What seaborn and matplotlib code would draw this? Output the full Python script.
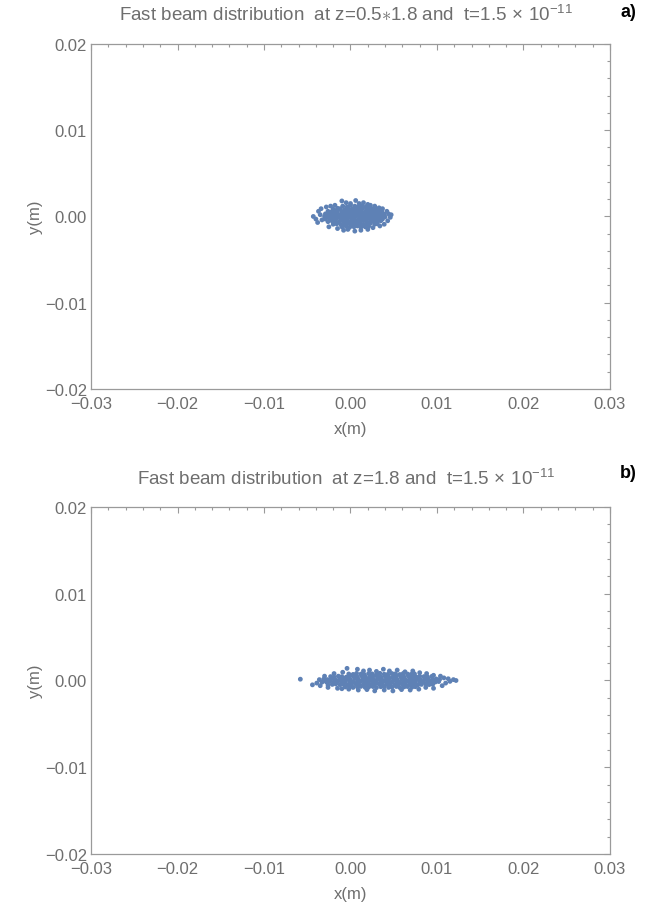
import numpy as np
import matplotlib
matplotlib.use("Agg")
import matplotlib.pyplot as plt
import seaborn as sns
from matplotlib.ticker import FixedLocator, FixedFormatter, MultipleLocator

sns.set_theme(style="white")
plt.rcParams['font.family'] = ['Liberation Sans', 'DejaVu Sans']
plt.rcParams['mathtext.fontset'] = 'custom'
plt.rcParams['mathtext.rm'] = 'Liberation Sans'
plt.rcParams['mathtext.it'] = 'Liberation Sans:italic'

# ---------------- data (values in mm) ----------------
# panel a) z = 0.5*1.8
x_a_mm = [
    -0.9, -0.4, 0.0, 0.5, 0.9, 1.3, 1.8,
    -2.0, -1.5, -1.2, -0.7, -0.3, 0.2, 0.6, 1.0, 1.4, 1.9, 2.2, 2.6, 3.0,
    -2.6, -2.2, -1.8, -1.5, -1.0, -0.6, -0.2, 0.2, 0.5, 1.0, 1.3, 1.8, 2.1, 2.5, 2.9, 3.3, 3.6,
    -2.9, -2.5, -2.1, -1.7, -1.3, -0.9, -0.4, 0.0, 0.4, 0.8, 1.2, 1.6, 2.0, 2.4, 2.8, 3.2, 3.6, 3.9,
    -3.0, -2.7, -2.3, -1.9, -1.5, -1.1, -0.6, -0.2, 0.2, 0.6, 1.0, 1.4, 1.8, 2.2, 2.6, 3.0, 3.4, 3.7, 4.0,
    -2.9, -2.4, -2.0, -1.7, -1.2, -0.8, -0.4, 0.1, 0.4, 0.9, 1.3, 1.7, 2.1, 2.5, 2.9, 3.3, 3.7,
    -2.6, -2.1, -1.7, -1.3, -0.9, -0.5, -0.1, 0.3, 0.7, 1.1, 1.5, 1.9, 2.3, 2.7, 3.1, 3.5,
    -2.0, -1.6, -1.1, -0.7, -0.2, 0.2, 0.6, 1.1, 1.5, 1.9, 2.3, 2.8, 3.1,
    -1.0, -0.5, -0.1, 0.4, 0.8, 1.2, 1.7, 2.1,
    -4.3, -3.7, -3.8, -3.4, -3.3, -3.5, -2.8, -2.5, -1.8, -1.5, -1.0, -0.5, 0.6, 1.0, 1.5, 2.3,
    2.8, 3.3, 3.7, 4.2, 4.4, 4.6, 4.7, 4.3, 3.9, 3.4, 2.6, 2.0, 1.2, 0.5, -0.3, -0.8, 0.0, 2.0,
    -2.3, -4.0,
]
y_a_mm = [
    1.2, 1.1, 1.3, 1.2, 1.1, 1.25, 1.15,
    0.85, 0.95, 0.9, 0.8, 0.95, 0.9, 0.85, 0.95, 0.9, 0.8, 0.95, 0.9, 0.85,
    0.6, 0.55, 0.65, 0.6, 0.5, 0.65, 0.6, 0.55, 0.65, 0.6, 0.5, 0.6, 0.65, 0.55, 0.6, 0.5, 0.6,
    0.3, 0.25, 0.35, 0.3, 0.2, 0.3, 0.35, 0.25, 0.3, 0.35, 0.2, 0.3, 0.25, 0.35, 0.3, 0.2, 0.3, 0.25,
    0.0, -0.05, 0.05, 0.0, -0.05, 0.05, 0.0, 0.05, -0.05, 0.0, 0.05, 0.0, -0.05, 0.05, 0.0, -0.05, 0.05, 0.0, -0.05,
    -0.3, -0.25, -0.35, -0.3, -0.2, -0.3, -0.35, -0.25, -0.3, -0.35, -0.25, -0.3, -0.2, -0.35, -0.3, -0.25, -0.3,
    -0.6, -0.55, -0.65, -0.6, -0.5, -0.65, -0.6, -0.55, -0.65, -0.6, -0.5, -0.6, -0.65, -0.55, -0.6, -0.5,
    -0.9, -0.85, -0.95, -0.9, -0.8, -0.95, -0.9, -0.85, -0.95, -0.9, -0.8, -0.9, -0.85,
    -1.2, -1.15, -1.25, -1.2, -1.1, -1.25, -1.2, -1.15,
    0.0, 0.6, -0.7, 0.9, -0.4, 0.2, 1.1, -1.2, 1.3, -1.4, 1.8, 1.6, 1.85, 1.5, 1.6, 1.3,
    1.2, 1.0, 0.9, 0.6, 0.3, -0.1, 0.2, -0.5, -0.9, -1.1, -1.3, -1.5, -1.6, -1.7, -1.5, -1.6, 1.5, 1.4,
    1.2, -0.3,
]

# panel b) z = 1.8
x_b_mm = [
    -0.2, 0.3, 0.7, 1.2, 1.6, 2.1, 2.5, 3.0, 3.4, 3.9, 4.3, 4.8, 5.2, 5.7, 6.1, 6.6, 7.0, 7.4,
    -2.3, -1.9, -1.4, -1.0, -0.5, -0.1, 0.4, 0.8, 1.3, 1.7, 2.2, 2.6, 3.1, 3.5, 4.0, 4.4, 4.9, 5.3,
    5.8, 6.2, 6.7, 7.1, 7.6, 8.0, 8.5, 8.9, 9.4,
    -3.1, -2.7, -2.2, -1.8, -1.3, -0.9, -0.4, 0.0, 0.5, 0.9, 1.4, 1.8, 2.3, 2.7, 3.2, 3.6, 4.1, 4.5,
    5.0, 5.4, 5.9, 6.3, 6.8, 7.2, 7.7, 8.1, 8.6, 9.0, 9.5, 9.9, 10.3,
    -3.3, -2.8, -2.4, -1.9, -1.5, -1.0, -0.6, -0.1, 0.3, 0.8, 1.2, 1.7, 2.1, 2.6, 3.0, 3.5, 3.9, 4.4,
    4.8, 5.3, 5.7, 6.2, 6.6, 7.1, 7.5, 8.0, 8.4, 8.9, 9.3, 9.8, 10.2,
    -2.6, -2.1, -1.7, -1.2, -0.8, -0.3, 0.1, 0.6, 1.0, 1.5, 1.9, 2.4, 2.8, 3.3, 3.7, 4.2, 4.6, 5.1,
    5.5, 6.0, 6.4, 6.9, 7.3, 7.8, 8.2, 8.7, 9.1, 9.5,
    -0.6, -0.1, 0.3, 0.8, 1.2, 1.7, 2.1, 2.6, 3.0, 3.5, 3.9, 4.4, 4.8, 5.3, 5.7, 6.2, 6.6, 7.1, 7.5,
    -5.8, -4.4, -3.9, -3.6, -3.5, -3.0, -2.6, -1.9, -1.5, -0.9, -0.4, 0.8, 1.5, 2.2, 3.0, 3.8, 4.5,
    5.4, 6.3, 7.2, 8.0, 8.8, 9.6, 10.4, 11.3, 11.9, 12.2, 11.0, 10.6, 9.6, 8.7, 7.9, 6.9, 5.9, 4.9,
    3.9, 2.8, 1.9, 0.9, -0.2, -1.0, 10.8, 11.5,
]
y_b_mm = [
    0.75, 0.7, 0.82, 0.74, 0.68, 0.8, 0.76, 0.7, 0.83, 0.72, 0.7, 0.8, 0.77, 0.69, 0.81, 0.74, 0.7, 0.76,
    0.45, 0.4, 0.5, 0.44, 0.38, 0.48, 0.46, 0.4, 0.52, 0.43, 0.39, 0.5, 0.45, 0.41, 0.49, 0.44, 0.38, 0.5,
    0.46, 0.4, 0.51, 0.43, 0.4, 0.49, 0.45, 0.41, 0.47,
    0.15, 0.1, 0.2, 0.14, 0.08, 0.18, 0.16, 0.1, 0.22, 0.13, 0.09, 0.2, 0.15, 0.11, 0.19, 0.14, 0.08, 0.2,
    0.16, 0.1, 0.21, 0.13, 0.1, 0.19, 0.15, 0.11, 0.17, 0.14, 0.1, 0.18, 0.12,
    -0.2, -0.15, -0.1, -0.18, -0.12, -0.2, -0.16, -0.1, -0.19, -0.14, -0.08, -0.2, -0.15, -0.11, -0.19, -0.14, -0.1, -0.2,
    -0.16, -0.12, -0.21, -0.13, -0.1, -0.19, -0.15, -0.11, -0.17, -0.14, -0.1, -0.18, -0.12,
    -0.5, -0.45, -0.4, -0.48, -0.42, -0.5, -0.46, -0.4, -0.49, -0.44, -0.38, -0.5, -0.45, -0.41, -0.49, -0.44, -0.4, -0.5,
    -0.46, -0.42, -0.51, -0.43, -0.4, -0.49, -0.45, -0.41, -0.47, -0.44,
    -0.75, -0.7, -0.8, -0.74, -0.68, -0.8, -0.76, -0.7, -0.82, -0.72, -0.7, -0.8, -0.77, -0.69, -0.81, -0.74, -0.7, -0.78, -0.72,
    0.15, -0.5, -0.3, 0.1, -0.6, 0.5, -0.8, 0.8, -0.9, 0.95, 1.4, 1.3, 1.1, 1.2, 1.05, 1.3, 1.1,
    1.2, 1.0, 1.1, 0.9, 0.8, 0.6, 0.5, 0.2, 0.1, 0.0, -0.3, -0.6, -0.9, -0.8, -1.0, -1.1, -1.05, -1.2,
    -1.1, -1.2, -1.05, -1.1, -1.0, -0.95, 0.3, -0.1,
]

x_ticks = [-0.03, -0.02, -0.01, 0.00, 0.01, 0.02, 0.03]
x_tick_labels = ["\u22120.03", "\u22120.02", "\u22120.01", "0.00", "0.01", "0.02", "0.03"]
y_ticks = [-0.02, -0.01, 0.00, 0.01, 0.02]
y_tick_labels = ["\u22120.02", "\u22120.01", "0.00", "0.01", "0.02"]

title_a = r"Fast beam distribution  at z=0.5$\ast$1.8 and  t=1.5$\,\times\,$10$^{-11}$"
title_b = r"Fast beam distribution  at z=1.8 and  t=1.5$\,\times\,$10$^{-11}$"
panel_tags = ["a)", "b)"]

# ---------------- drawing ----------------
POINT = "#5E81B5"
FRAME = "#9A9A9A"
TEXT = "#6E6E6E"

fig = plt.figure(figsize=(6.51, 9.12), dpi=100)
ax_a = fig.add_axes([0.1398, 0.5724, 0.7972, 0.3783])
ax_b = fig.add_axes([0.1398, 0.0625, 0.7972, 0.3805])


def style(ax):
    ax.set_xlim(-0.03, 0.03)
    ax.set_ylim(-0.02, 0.02)
    ax.xaxis.set_major_locator(FixedLocator(x_ticks))
    ax.xaxis.set_major_formatter(FixedFormatter(x_tick_labels))
    ax.yaxis.set_major_locator(FixedLocator(y_ticks))
    ax.yaxis.set_major_formatter(FixedFormatter(y_tick_labels))
    ax.xaxis.set_minor_locator(MultipleLocator(0.002))
    ax.yaxis.set_minor_locator(MultipleLocator(0.002))
    ax.tick_params(which="both", direction="in", top=True, right=True,
                   color=FRAME, labelcolor=TEXT, labelsize=12, width=0.8)
    ax.tick_params(axis="x", which="major", pad=5)
    ax.tick_params(axis="y", which="major", pad=3)
    ax.tick_params(which="major", length=4.5)
    ax.tick_params(which="minor", length=2.5)
    for sp in ax.spines.values():
        sp.set_color(FRAME)
        sp.set_linewidth(0.9)
    ax.set_xlabel("x(m)", color=TEXT, fontsize=12, labelpad=7)
    ax.set_ylabel("y(m)", color=TEXT, fontsize=12, labelpad=1)
    ax.set_facecolor("white")


for ax, xs, ys in [(ax_a, x_a_mm, y_a_mm), (ax_b, x_b_mm, y_b_mm)]:
    sns.scatterplot(x=np.asarray(xs) / 1000.0, y=np.asarray(ys) / 1000.0, ax=ax,
                    s=12, color=POINT, linewidth=0, edgecolor="none")
    style(ax)

fig.text(0.532, 0.984, title_a, ha="center", va="center", color=TEXT, fontsize=13.5)
fig.text(0.532, 0.475, title_b, ha="center", va="center", color=TEXT, fontsize=13.5)
fig.text(0.965, 0.986, panel_tags[0], ha="center", va="center", color="black",
         fontsize=13, fontweight="bold")
fig.text(0.965, 0.481, panel_tags[1], ha="center", va="center", color="black",
         fontsize=13, fontweight="bold")

fig.savefig("out.png", dpi=100, facecolor="white")
